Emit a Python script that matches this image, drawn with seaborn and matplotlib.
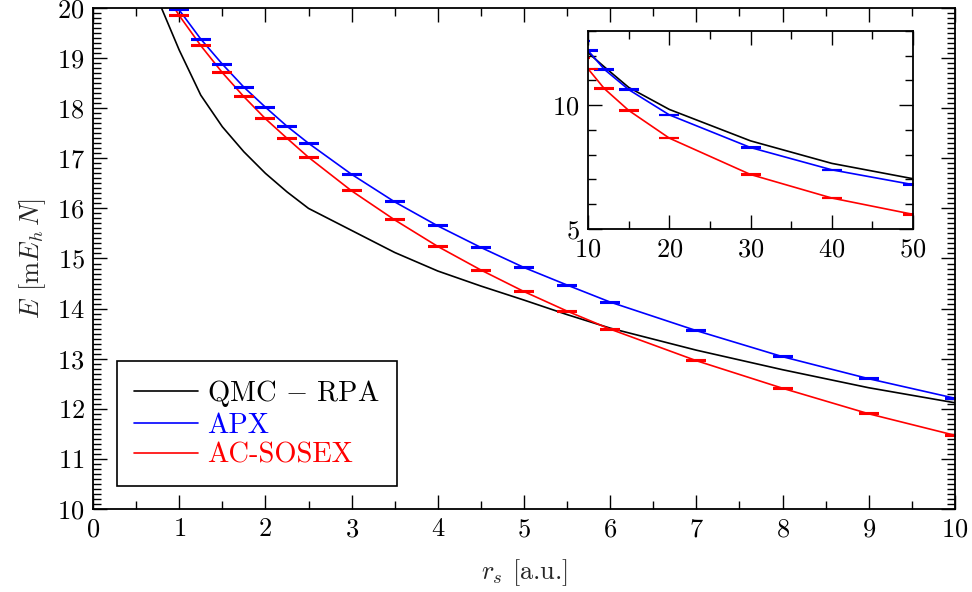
import pandas as pd
import seaborn as sns
import matplotlib.pyplot as plt
from matplotlib.ticker import MultipleLocator

# Data
rs = [0.5, 1, 1.25, 1.5, 1.75, 2, 2.25, 2.5, 3, 3.5, 4, 4.5, 5, 5.5, 6,
      7, 8, 9, 10, 12, 15, 20, 30, 40, 50]
qmc_rpa = [21.2, 19.16, 18.26, 17.63, 17.13, 16.70, 16.33, 16.00, 15.56, 15.12,
           14.75, 14.45, 14.17, 13.88, 13.61, 13.17, 12.78, 12.42, 12.12, 11.55,
           10.72, 9.83, 8.56, 7.65, 7.03]
apx = [21.1, 19.96, 19.38, 18.88, 18.42, 18.02, 17.64, 17.30, 16.68, 16.13,
       15.65, 15.22, 14.82, 14.47, 14.13, 13.56, 13.04, 12.60, 12.21, 11.45,
       10.63, 9.61, 8.29, 7.39, 6.79]
ac_sosex = [21.2, 19.85, 19.25, 18.71, 18.23, 17.79, 17.40, 17.02, 16.35, 15.77,
            15.24, 14.77, 14.34, 13.95, 13.59, 12.96, 12.41, 11.90, 11.47, 10.67,
            9.79, 8.67, 7.20, 6.25, 5.59]
err = 0.01

df = pd.DataFrame({"rs": rs, "qmc_rpa": qmc_rpa, "apx": apx, "ac_sosex": ac_sosex})

sns.set_style("ticks")
plt.rcParams["font.family"] = ["cmr10"]
plt.rcParams["mathtext.fontset"] = "cm"
plt.rcParams["axes.formatter.use_mathtext"] = True
plt.rcParams["axes.unicode_minus"] = False

FS = 19


def draw(ax, with_labels):
    lab = (r"QMC $-$ RPA", "APX", "AC-SOSEX") if with_labels else (None,) * 3
    sns.lineplot(data=df, x="rs", y="qmc_rpa", color="black", lw=1.2, sort=False,
                 label=lab[0], legend=False, ax=ax)
    sns.lineplot(data=df, x="rs", y="apx", color="blue", lw=1.2, sort=False,
                 label=lab[1], legend=False, ax=ax)
    sns.lineplot(data=df, x="rs", y="ac_sosex", color="red", lw=1.2, sort=False,
                 label=lab[2], legend=False, ax=ax)
    ax.errorbar(df["rs"], df["apx"], yerr=err, fmt="none", ecolor="blue",
                capsize=7, capthick=1.5, elinewidth=1.2)
    ax.errorbar(df["rs"], df["ac_sosex"], yerr=err, fmt="none", ecolor="red",
                capsize=7, capthick=1.5, elinewidth=1.2)
    ax.tick_params(which="both", direction="in", top=True, right=True,
                   labelsize=FS, width=1, colors="black")
    ax.tick_params(which="major", length=10, pad=6)
    ax.tick_params(which="minor", length=5.5)
    for s in ax.spines.values():
        s.set_linewidth(1.3)
        s.set_color("black")
    ax.set_xlabel("")
    ax.set_ylabel("")


fig = plt.figure(figsize=(9.72, 5.92), dpi=100)

# main panel
ax = fig.add_axes([0.0957, 0.1402, 0.8868, 0.8463])
draw(ax, True)
ax.set_xlim(0, 10)
ax.set_ylim(10, 20)
ax.xaxis.set_major_locator(MultipleLocator(1))
ax.xaxis.set_minor_locator(MultipleLocator(0.5))
ax.yaxis.set_major_locator(MultipleLocator(1))
ax.yaxis.set_minor_locator(MultipleLocator(0.1))
ax.set_xlabel(r"$r_s$ [a.u.]", fontsize=FS, labelpad=12)
ax.set_ylabel(r"$E$ [m$E_h\,N$]", fontsize=FS, labelpad=6)

leg = ax.legend(loc="lower left", bbox_to_anchor=(0.028, 0.046), borderaxespad=0,
                fancybox=False, edgecolor="black", framealpha=1, fontsize=20.5,
                handlelength=2.25, handletextpad=0.32, labelspacing=0.12,
                borderpad=0.6, labelcolor="linecolor")
leg.get_frame().set_linewidth(1.2)

# inset
axi = fig.add_axes([0.605, 0.6132, 0.3344, 0.3345])
draw(axi, False)
axi.set_xlim(10, 50)
axi.set_ylim(5, 13)
axi.xaxis.set_major_locator(MultipleLocator(10))
axi.xaxis.set_minor_locator(MultipleLocator(5))
axi.yaxis.set_major_locator(MultipleLocator(5))
axi.yaxis.set_minor_locator(MultipleLocator(1))

fig.savefig("out.png", dpi=100)
